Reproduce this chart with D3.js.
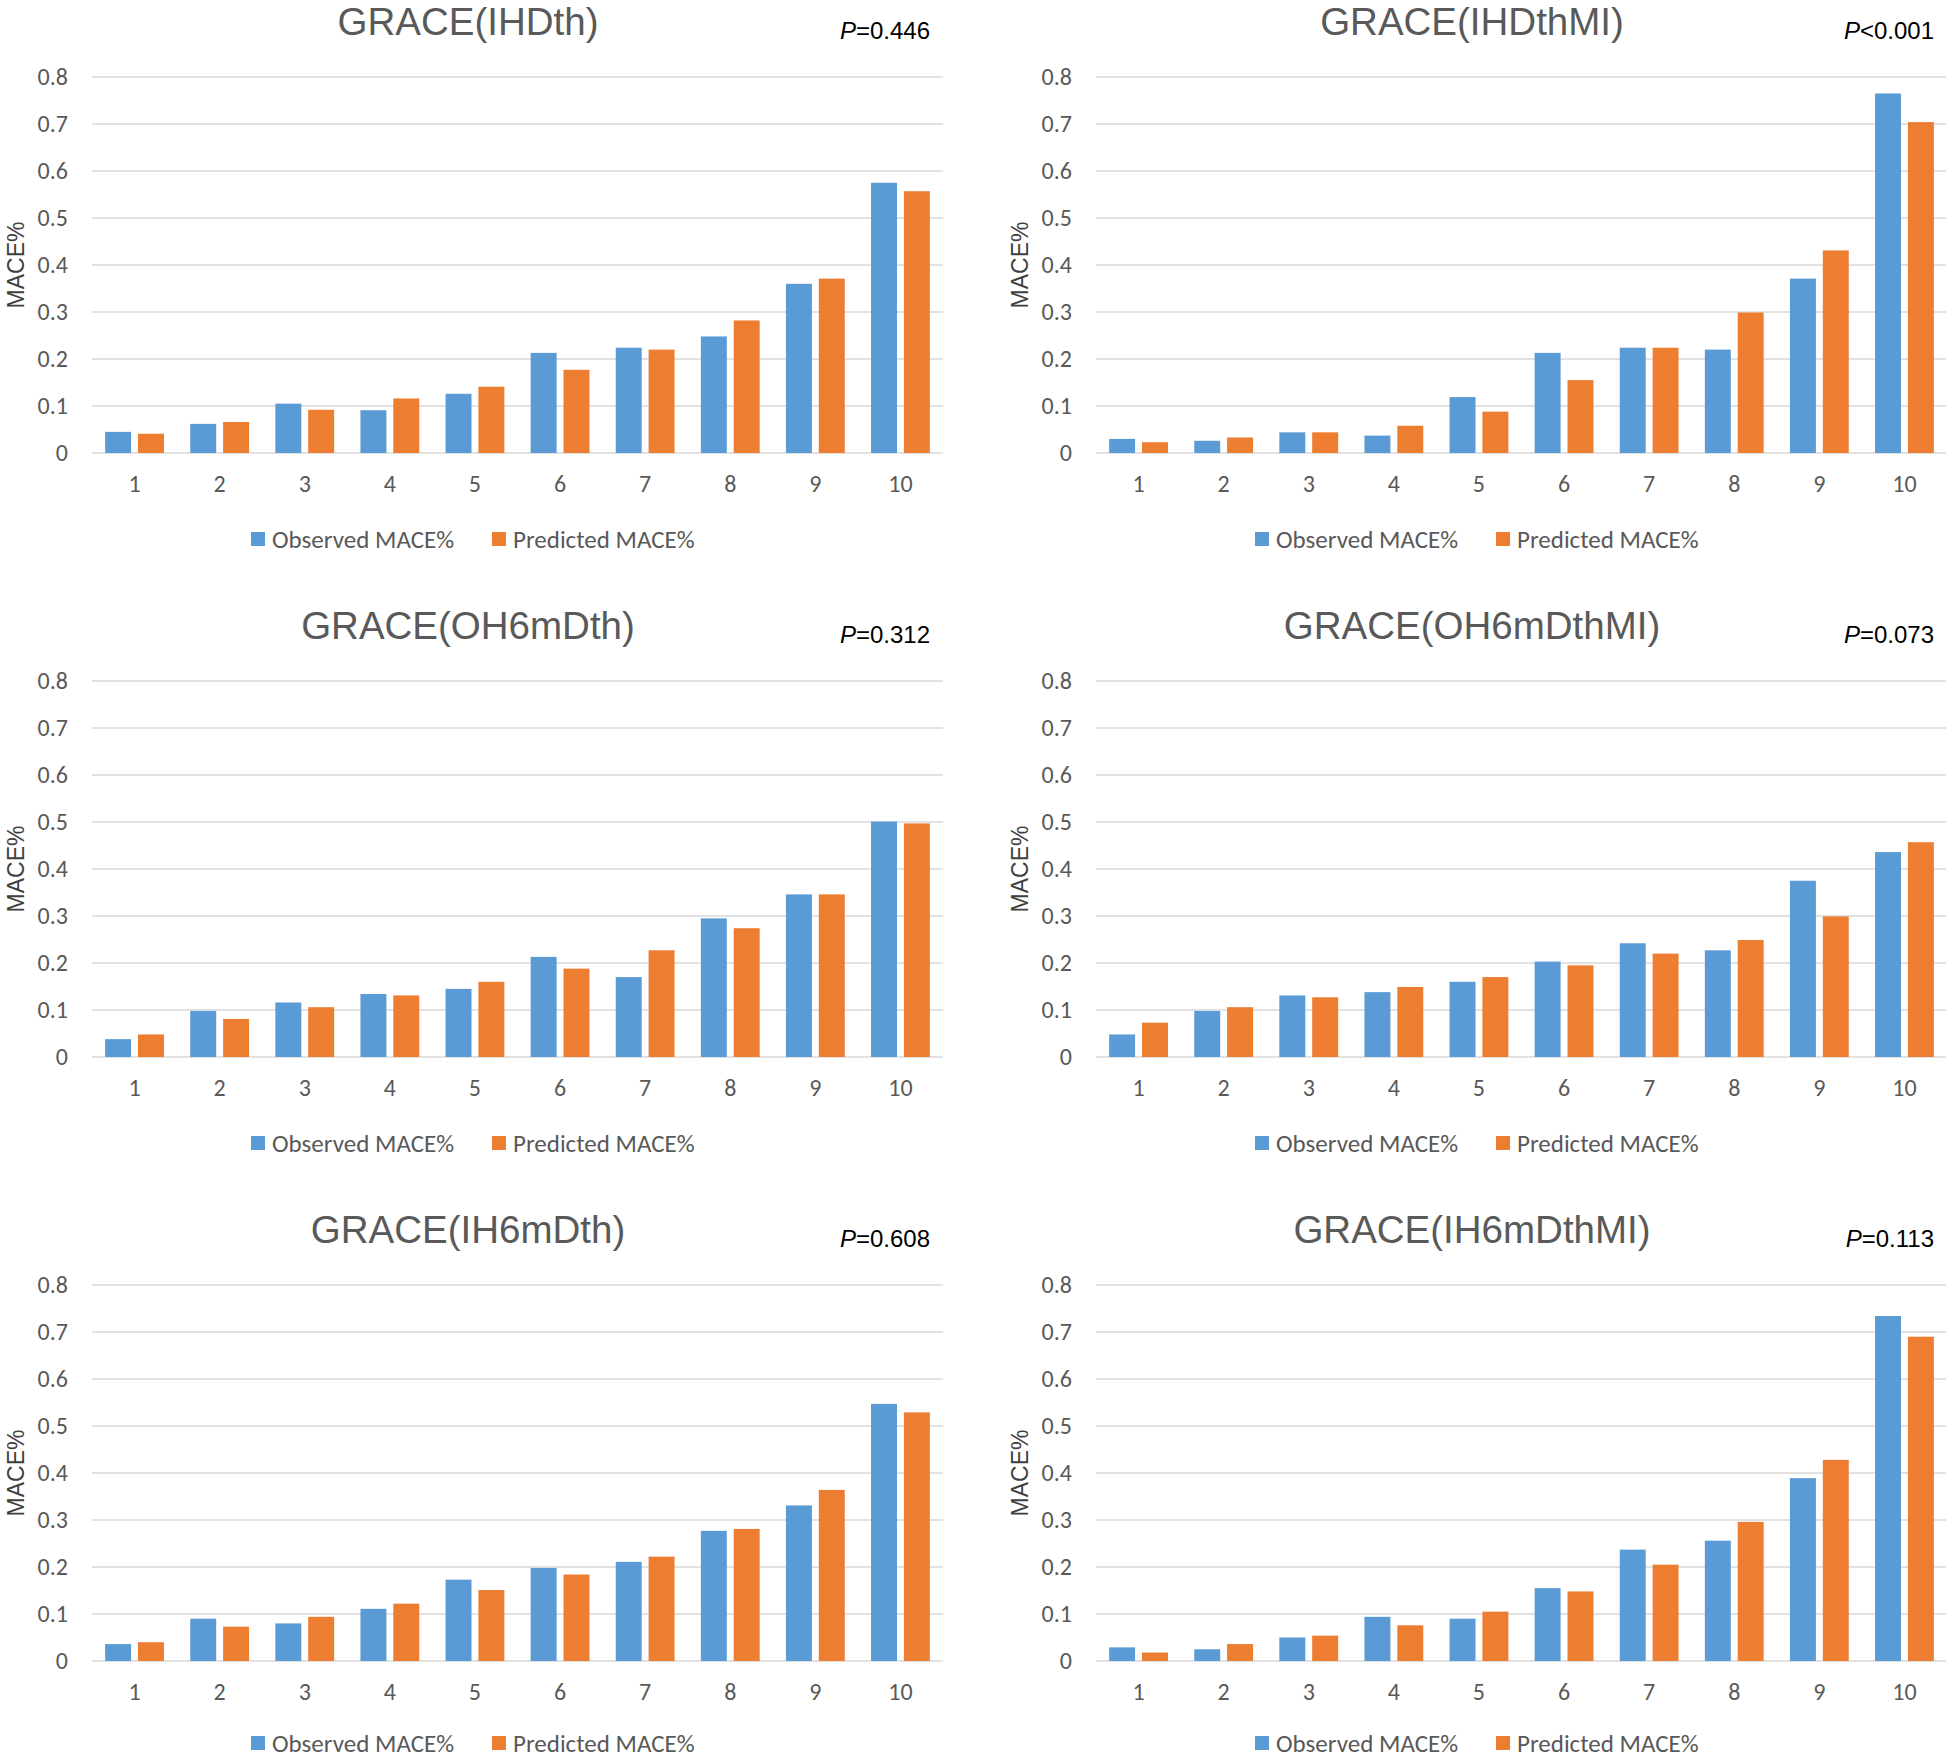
<!DOCTYPE html>
<html>
<head>
<meta charset="utf-8">
<script src="https://cdn.jsdelivr.net/npm/d3@7"></script>
<style>
	html, body { margin: 0; padding: 0; background: #fff; }
	svg { display: block; }
</style>
</head>
<body>
<svg id="canvas" width="1946" height="1758"></svg>
<script>
'use strict';

// deciles on the x axis, shared by every panel
const categories = ['1', '2', '3', '4', '5', '6', '7', '8', '9', '10'];
const yTicks = [0, 0.1, 0.2, 0.3, 0.4, 0.5, 0.6, 0.7, 0.8];
const seriesNames = ['Observed MACE%', 'Predicted MACE%'];

const titles = ['GRACE(IHDth)', 'GRACE(IHDthMI)', 'GRACE(OH6mDth)', 'GRACE(OH6mDthMI)', 'GRACE(IH6mDth)', 'GRACE(IH6mDthMI)'];
const pSigns = ['=', '<', '=', '=', '=', '='];
const pValues = ['0.446', '0.001', '0.312', '0.073', '0.608', '0.113'];

const observedIHDth = [0.045, 0.062, 0.105, 0.091, 0.126, 0.213, 0.224, 0.248, 0.360, 0.575];
const predictedIHDth = [0.041, 0.066, 0.092, 0.116, 0.141, 0.177, 0.220, 0.282, 0.371, 0.557];

const observedIHDthMI = [0.030, 0.026, 0.044, 0.037, 0.119, 0.213, 0.224, 0.220, 0.371, 0.765];
const predictedIHDthMI = [0.023, 0.033, 0.044, 0.058, 0.088, 0.155, 0.224, 0.299, 0.431, 0.704];

const observedOH6mDth = [0.038, 0.098, 0.116, 0.134, 0.145, 0.213, 0.170, 0.295, 0.346, 0.501];
const predictedOH6mDth = [0.048, 0.081, 0.106, 0.131, 0.160, 0.188, 0.227, 0.274, 0.346, 0.497];

const observedOH6mDthMI = [0.048, 0.098, 0.131, 0.138, 0.160, 0.203, 0.242, 0.227, 0.375, 0.436];
const predictedOH6mDthMI = [0.073, 0.106, 0.127, 0.149, 0.170, 0.195, 0.220, 0.249, 0.299, 0.457];

const observedIH6mDth = [0.036, 0.090, 0.080, 0.111, 0.173, 0.198, 0.211, 0.277, 0.331, 0.547];
const predictedIH6mDth = [0.040, 0.073, 0.094, 0.122, 0.151, 0.184, 0.222, 0.281, 0.364, 0.529];

const observedIH6mDthMI = [0.029, 0.025, 0.050, 0.094, 0.090, 0.155, 0.237, 0.256, 0.389, 0.734];
const predictedIH6mDthMI = [0.018, 0.036, 0.054, 0.076, 0.105, 0.148, 0.205, 0.296, 0.428, 0.690];

const observed = [observedIHDth, observedIHDthMI, observedOH6mDth, observedOH6mDthMI, observedIH6mDth, observedIH6mDthMI];
const predicted = [predictedIHDth, predictedIHDthMI, predictedOH6mDth, predictedOH6mDthMI, predictedIH6mDth, predictedIH6mDthMI];

/** layout of the 3x2 grid of panels */
const colLeft = [92, 1096];
const rowTop = [77, 681, 1285];
// the bottom legend sits right on the picture edge, lift it a little
const legendGap = [86, 86, 82];
const plotW = 851;
const plotH = 376;

const colors = { 'Observed MACE%': '#5b9bd5', 'Predicted MACE%': '#ed7d31' };
const calibriLike = 'Carlito, Lato, "Open Sans", sans-serif';
const arial = '"Liberation Sans", Arial, sans-serif';

const svg = d3.select('#canvas');

titles.forEach((title, i) => {
	let row = Math.floor(i / 2);
	let left = colLeft[i % 2];
	let top = rowTop[row];
	let g = svg.append('g')
		.attr('transform', `translate(${left},${top})`);

	let x0 = d3.scaleBand()
		.domain(categories)
		.range([0, plotW]);
	let x1 = d3.scaleBand()
		.domain(seriesNames)
		.range([0, x0.bandwidth()])
		.paddingInner(0.21)
		.paddingOuter(0.4);
	let y = d3.scaleLinear()
		.domain([0, 0.8])
		.range([plotH, 0]);

	// horizontal gridlines
	g.append('g').selectAll('line')
		.data(yTicks)
		.join('line')
			.attr('x1', 0)
			.attr('x2', plotW)
			.attr('y1', d => y(d))
			.attr('y2', d => y(d))
			.attr('stroke', '#d9d9d9')
			.attr('stroke-width', 1.6);

	// y tick labels
	g.append('g').selectAll('text')
		.data(yTicks)
		.join('text')
			.attr('x', -24)
			.attr('y', d => y(d))
			.attr('dy', '0.35em')
			.attr('text-anchor', 'end')
			.attr('fill', '#595959')
			.style('font-family', calibriLike)
			.style('font-size', '24px')
			.text(d => d === 0 ? '0' : d3.format('.1f')(d));

	// x tick labels
	g.append('g').selectAll('text')
		.data(categories)
		.join('text')
			.attr('x', d => x0(d) + x0.bandwidth() / 2)
			.attr('y', plotH + 31)
			.attr('dy', '0.35em')
			.attr('text-anchor', 'middle')
			.attr('fill', '#595959')
			.style('font-family', calibriLike)
			.style('font-size', '24px')
			.text(d => d);

	// bars
	let rows = categories.map((c, k) => ({
		cat: c,
		values: [
			{ key: seriesNames[0], value: observed[i][k] },
			{ key: seriesNames[1], value: predicted[i][k] }
		]
	}));
	g.append('g').selectAll('g')
		.data(rows)
		.join('g')
			.attr('transform', d => `translate(${x0(d.cat)},0)`)
		.selectAll('rect')
		.data(d => d.values)
		.join('rect')
			.attr('x', d => x1(d.key))
			.attr('y', d => y(d.value))
			.attr('width', x1.bandwidth())
			.attr('height', d => y(0) - y(d.value))
			.attr('fill', d => colors[d.key]);

	// title
	g.append('text')
		.attr('x', 376)
		.attr('y', -55)
		.attr('dy', '0.35em')
		.attr('text-anchor', 'middle')
		.attr('fill', '#595959')
		.style('font-family', arial)
		.style('font-size', '38.5px')
		.text(title);

	// P value
	let p = g.append('text')
		.attr('x', plotW - 13)
		.attr('y', -46)
		.attr('dy', '0.35em')
		.attr('text-anchor', 'end')
		.attr('fill', '#000')
		.style('font-family', arial)
		.style('font-size', '24px');
	p.append('tspan').style('font-style', 'italic').text('P');
	p.append('tspan').text(pSigns[i] + pValues[i]);

	// y axis title
	g.append('text')
		.attr('transform', `translate(-76,${plotH / 2}) rotate(-90)`)
		.attr('dy', '0.35em')
		.attr('text-anchor', 'middle')
		.attr('fill', '#404040')
		.style('font-family', arial)
		.style('font-size', '23px')
		.text('MACE%');

	// legend
	let legend = g.append('g').selectAll('g')
		.data(seriesNames)
		.join('g')
			.attr('transform', (d, k) => `translate(${159 + k * 241},${plotH + legendGap[row]})`);
	legend.append('rect')
		.attr('x', 0)
		.attr('y', -7)
		.attr('width', 14)
		.attr('height', 14)
		.attr('fill', d => colors[d]);
	legend.append('text')
		.attr('x', 21)
		.attr('dy', '0.35em')
		.attr('fill', '#595959')
		.style('font-family', calibriLike)
		.style('font-size', '25px')
		.text(d => d);
});
</script>
</body>
</html>
